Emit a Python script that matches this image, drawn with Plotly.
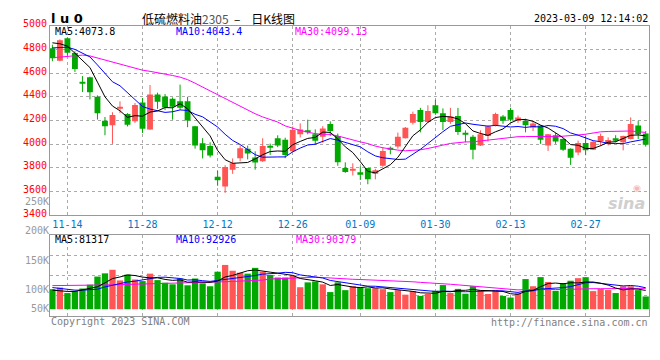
import plotly.graph_objects as go

W, H = 660, 360

# ---------------- data ----------------
opens = [4810, 4705, 4895, 4770, 4520, 4565, 4400, 4198, 4160, 4303,
         4255, 4193, 4352, 4125, 4420, 4402, 4384, 4362, 4362, 4152,
         4008, 3984, 3725, 3643, 3785, 3882, 3962, 3888, 3855, 3985,
         4050, 4038, 3940, 4084, 4117, 4084, 4062, 4171, 4070, 3798,
         3782, 3764, 3798, 3750, 3817, 3968, 3980, 4051, 4180, 4288,
         4188, 4329, 4261, 4188, 4239, 4092, 4062, 3990, 4070, 4157,
         4234, 4288, 4198, 4198, 4140, 4157, 3990, 4076, 4043, 3962,
         3929, 4011, 3953, 4024, 4003, 4051, 4016, 4043, 4157, 4090]
highs = [4840, 4885, 4903, 4785, 4575, 4570, 4412, 4230, 4270, 4362,
         4262, 4348, 4390, 4500, 4435, 4424, 4395, 4503, 4400, 4155,
         4051, 4016, 3776, 3823, 3880, 3990, 3988, 3940, 4050, 4005,
         4075, 4055, 4150, 4176, 4207, 4125, 4152, 4193, 4090, 3847,
         3839, 3812, 3800, 3792, 3975, 3980, 4098, 4145, 4275, 4307,
         4329, 4376, 4302, 4307, 4307, 4117, 4078, 4117, 4158, 4266,
         4247, 4307, 4242, 4215, 4198, 4160, 4086, 4098, 4051, 3965,
         4030, 4070, 4025, 4090, 4057, 4076, 4072, 4226, 4198, 4111]
lows = [4700, 4700, 4745, 4610, 4440, 4378, 4208, 4075, 4003, 4262,
        4150, 4180, 4095, 4122, 4298, 4288, 4207, 4290, 4144, 3962,
        3880, 3888, 3649, 3589, 3750, 3855, 3872, 3785, 3850, 3910,
        3975, 3882, 3935, 4057, 4084, 3995, 4012, 4070, 3818, 3758,
        3736, 3698, 3662, 3703, 3809, 3915, 3962, 4048, 4166, 4100,
        4180, 4248, 4120, 4172, 4078, 4016, 3872, 3985, 4022, 4150,
        4172, 4193, 4180, 4100, 4111, 4003, 3943, 4003, 3943, 3825,
        3907, 3907, 3950, 3984, 3989, 4016, 3948, 4040, 4043, 3980]
closes = [4725, 4878, 4772, 4635, 4512, 4438, 4262, 4152, 4247, 4310,
          4165, 4330, 4130, 4420, 4358, 4310, 4316, 4307, 4201, 3989,
          3948, 3905, 3695, 3807, 3839, 3965, 3922, 3845, 3985, 3972,
          3990, 3908, 4122, 4125, 4100, 4030, 4133, 4111, 3848, 3766,
          3788, 3750, 3703, 3780, 3943, 3958, 4062, 4139, 4255, 4188,
          4280, 4262, 4188, 4234, 4103, 4080, 3953, 4084, 4152, 4255,
          4198, 4207, 4225, 4160, 4175, 4038, 4084, 4022, 3953, 3886,
          4011, 3948, 4021, 4070, 4035, 4030, 4070, 4171, 4084, 3995]
volumes = [86800, 93800, 70000, 78400, 89600, 106400, 141400, 155400, 170800, 124600,
           149800, 128800, 121800, 154000, 126000, 114800, 107800, 133000, 103600, 133000,
           112000, 99400, 162400, 191800, 166600, 158200, 154000, 179200, 162400, 148400,
           137200, 137200, 147000, 95200, 116200, 120400, 107800, 74200, 116200, 82600,
           99400, 95200, 91000, 91000, 86800, 74200, 82600, 63000, 78400, 57400,
           65800, 79800, 104600, 70000, 88000, 67200, 99500, 82000, 65800, 79600,
           57400, 50400, 68600, 130500, 99400, 139000, 117800, 79800, 113500, 123400,
           134500, 138800, 78400, 88000, 83000, 70000, 99400, 99400, 82600, 55200]

# moving-average values before enough bars are on screen
ma5_head = [4856, 4848, 4828, 4766]
ma10_head = [4813, 4819, 4819, 4800, 4772, 4737, 4669, 4601, 4527]
ma30_head = [4730, 4736, 4742, 4748, 4752, 4745, 4728, 4710, 4693, 4678,
             4662, 4640, 4625, 4615, 4605, 4592, 4580, 4566, 4545, 4515,
             4485, 4450, 4418, 4385, 4352, 4320, 4290, 4257, 4230]
vma5_head = [82600, 78400, 77000, 77000]
vma10_head = [93800, 89600, 85400, 82600, 82600, 84000, 86800, 96600, 103600]
vma30_head = [102200, 102200, 102200, 102900, 103600, 103600, 104300, 105000, 105700, 106400,
              107100, 107800, 108500, 109200, 109900, 110600, 111300, 112000, 113400, 114800,
              115500, 116200, 117600, 119000, 120400, 121800, 123200, 124600, 126000]

tick_idx = [2, 12, 22, 32, 41, 51, 61, 71]
tick_labels = ["11-14", "11-28", "12-12", "12-26", "01-09", "01-30", "02-13", "02-27"]
price_ticks = [3400, 3600, 3800, 4000, 4200, 4400, 4600, 4800, 5000]
vol_label_vals = [66667, 100000, 150000, 200000, 250000]
vol_labels = ["50K", "100K", "150K", "200K", "250K"]

price_legend = ["MA5:4073.8", "MA10:4043.4", "MA30:4099.13"]
vol_legend = ["MA5:81317", "MA10:92926", "MA30:90379"]
symbol_text = "l u 0"
title_name = "低硫燃料油"
title_code = "2305"
title_tail = "\u00a0\u00a0–\u00a0\u00a0\u00a0\u00a0日K线图"
stamp = "2023-03-09 12:14:02"
copyright_text = "Copyright 2023 SINA.COM"
url_text = "http://finance.sina.com.cn"

# ---------------- helpers ----------------
MONO = "DejaVu Sans Mono"
RED, GREEN = "#FF5555", "#00A800"
MA_COLORS = ["#000000", "#0000FF", "#FF00FF"]


def sma(vals, n, head):
    out = list(head)
    for i in range(len(head), len(vals)):
        out.append(sum(vals[i - n + 1:i + 1]) / n)
    return out


def px(x):
    return x / W


def py(y):
    return 1 - y / H


N = len(closes)
xs = list(range(N))
up = [c >= o for o, c in zip(opens, closes)]
colors = [RED if u else GREEN for u in up]

MIN_BODY = 8
body_base, body_h = [], []
for o, c in zip(opens, closes):
    lo, hi = min(o, c), max(o, c)
    h = hi - lo
    if h < MIN_BODY:
        lo = (lo + hi) / 2 - MIN_BODY / 2
        h = MIN_BODY
    body_base.append(lo)
    body_h.append(h)

fig = go.Figure()

# candle bodies
fig.add_trace(go.Bar(x=xs, y=body_h, base=body_base, width=0.78,
                     marker=dict(color=colors, line=dict(width=0)),
                     xaxis="x", yaxis="y", hoverinfo="skip"))
# wicks
for col, flag in ((RED, True), (GREEN, False)):
    wx, wy = [], []
    for i in xs:
        if up[i] == flag:
            wx += [i, i, None]
            wy += [lows[i], highs[i], None]
    fig.add_trace(go.Scatter(x=wx, y=wy, mode="lines", line=dict(color=col, width=1),
                             xaxis="x", yaxis="y", hoverinfo="skip"))

# price moving averages
for n, head, col in ((30, ma30_head, MA_COLORS[2]), (10, ma10_head, MA_COLORS[1]), (5, ma5_head, MA_COLORS[0])):
    fig.add_trace(go.Scatter(x=xs, y=sma(closes, n, head), mode="lines",
                             line=dict(color=col, width=1), xaxis="x", yaxis="y", hoverinfo="skip"))

# volume bars
fig.add_trace(go.Bar(x=xs, y=volumes, width=0.84,
                     marker=dict(color=colors, line=dict(width=0)),
                     xaxis="x2", yaxis="y2", hoverinfo="skip"))
for n, head, col in ((30, vma30_head, MA_COLORS[2]), (10, vma10_head, MA_COLORS[1]), (5, vma5_head, MA_COLORS[0])):
    fig.add_trace(go.Scatter(x=xs, y=sma(volumes, n, head), mode="lines",
                             line=dict(color=col, width=1), xaxis="x2", yaxis="y2", hoverinfo="skip"))

# carrier for the volume label axis
fig.add_trace(go.Scatter(x=[0.5], y=[100000], mode="markers", marker=dict(size=1, opacity=0),
                         xaxis="x3", yaxis="y3", hoverinfo="skip"))

# ---------------- layout ----------------
x_dom = [px(50), px(649)]
x_rng = [-0.32, N - 1 + 0.44]
price_dom = [py(213.8), py(18.3)]
vol_dom = [py(317.7), py(234.3)]

v_per_px = 4200.0
v_lo = -(317.7 - 310.7) * v_per_px
v_hi = v_lo + (317.7 - 234.3) * v_per_px
vol_grid = [v_lo + k * (v_hi - v_lo) / 4 for k in (1, 2, 3)]

lab_per_px = 50000 / 30.0
y3_lo = 100000 - (317.7 - 290) * lab_per_px
y3_hi = 100000 + (290 - 195) * lab_per_px

common = dict(showline=True, mirror=True, linecolor="#999999", linewidth=1, zeroline=False,
              showgrid=True, gridcolor="#AAAAAA", griddash="dot", gridwidth=1, ticks="",
              fixedrange=True)

annotations = []


def note(text, x, y, color, xanchor="left", size=10, family=MONO, weight="normal", style="normal"):
    annotations.append(dict(text=text, x=px(x), y=py(y), xref="paper", yref="paper",
                            xanchor=xanchor, yanchor="middle", showarrow=False, borderpad=0,
                            font=dict(family=family, size=size, color=color, weight=weight, style=style)))


for txt, x0, col in zip(price_legend, (54, 175, 294), MA_COLORS):
    note(txt, x0, 24, col)
for txt, x0, col in zip(vol_legend, (54, 175, 295), MA_COLORS):
    note(txt, x0, 238.5, col)

note(symbol_text, 50, 11, "#000000", size=13, family="DejaVu Sans", weight="bold")
note(title_name + "<span style='color:#555555'>" + title_code + "</span>" + title_tail,
     141, 10.5, "#000000", size=12, family="Noto Sans CJK SC")
note(stamp, 649, 11, "#000000", xanchor="right")
note(copyright_text, 50, 323.5, "#808080")
note(url_text, 649, 324, "#808080", xanchor="right")
note("sina", 626, 202, "#CFCFCF", xanchor="center", size=16, family="DejaVu Sans",
     weight="bold", style="italic")
note("◉", 637, 186, "#F4BABA", xanchor="center", size=9, family="DejaVu Sans")

fig.update_layout(
    width=W, height=H, autosize=False,
    margin=dict(l=0, r=0, t=0, b=0),
    paper_bgcolor="#FFFFFF", plot_bgcolor="rgba(0,0,0,0)",
    showlegend=False,
    xaxis=dict(**common, domain=x_dom, range=x_rng, anchor="y",
               tickmode="array", tickvals=tick_idx, ticktext=tick_labels,
               tickfont=dict(family=MONO, size=10, color="#0078C8")),
    yaxis=dict(**common, domain=price_dom, range=[3400, 5000], anchor="x",
               tickmode="array", tickvals=price_ticks, ticklabelshift=-2,
               tickfont=dict(family=MONO, size=10, color="#FF0000")),
    xaxis2=dict(**common, domain=x_dom, range=x_rng, anchor="y2",
                tickmode="array", tickvals=tick_idx, showticklabels=False),
    yaxis2=dict(**common, domain=vol_dom, range=[v_lo, v_hi], anchor="x2",
                tickmode="array", tickvals=vol_grid, showticklabels=False),
    xaxis3=dict(domain=x_dom, range=[0, 1], anchor="y3", visible=False, fixedrange=True),
    yaxis3=dict(domain=[py(317.7), py(195)], range=[y3_lo, y3_hi], anchor="x3",
                showgrid=False, showline=False, zeroline=False, ticks="", fixedrange=True,
                tickmode="array", tickvals=vol_label_vals, ticktext=vol_labels,
                tickfont=dict(family=MONO, size=10, color="#999999")),
    annotations=annotations,
)

fig.write_html("out.html", config={"displayModeBar": False},
               post_script="document.body.style.margin='0px';document.body.style.overflow='hidden';")
